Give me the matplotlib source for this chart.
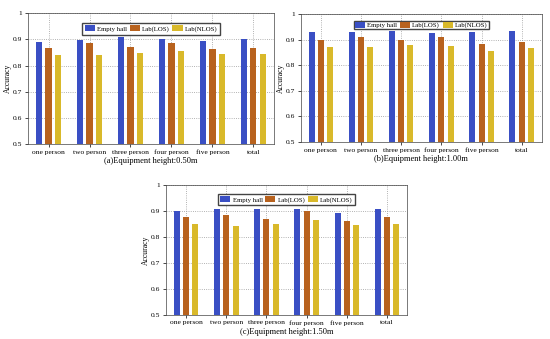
import matplotlib
matplotlib.use('Agg')
import matplotlib.pyplot as plt
import numpy as np

plt.rcParams['font.family'] = ['Liberation Serif', 'DejaVu Serif']
plt.rcParams['font.size'] = 5.5

categories = ['one person', 'two person', 'three person', 'four person', 'five person', 'total']
series_names = ['Empty hall', 'Lab(LOS)', 'Lab(NLOS)']

# (a) equipment height 0.50m
empty_a = [0.890, 0.899, 0.908, 0.900, 0.892, 0.901]
los_a = [0.869, 0.885, 0.871, 0.887, 0.862, 0.869]
nlos_a = [0.840, 0.842, 0.847, 0.855, 0.843, 0.846]

# (b) equipment height 1.00m
empty_b = [0.930, 0.929, 0.934, 0.926, 0.930, 0.932]
los_b = [0.900, 0.908, 0.899, 0.908, 0.881, 0.890]
nlos_b = [0.870, 0.871, 0.877, 0.875, 0.856, 0.866]

# (c) equipment height 1.50m
empty_c = [0.900, 0.909, 0.909, 0.909, 0.894, 0.909]
los_c = [0.879, 0.886, 0.871, 0.899, 0.862, 0.879]
nlos_c = [0.851, 0.842, 0.851, 0.866, 0.846, 0.851]

titles = ['(a)Equipment height:0.50m', '(b)Equipment height:1.00m', '(c)Equipment height:1.50m']
colors = ['#3a4fc4', '#b8621e', '#d9b92a']


def draw_panel(ax, values, title, leg_top, leg_pad):
    x = np.arange(1, len(categories) + 1)
    offsets = [-0.23, 0.0, 0.23]
    for vals, off, col, name in zip(values, offsets, colors, series_names):
        ax.bar(x + off, vals, width=0.15, color=col, label=name, zorder=3)
    ax.set_xlim(0.5, 6.5)
    ax.set_ylim(0.5, 1.0)
    ax.set_xticks(x)
    ax.set_xticklabels(categories)
    ax.set_yticks([0.5, 0.6, 0.7, 0.8, 0.9, 1.0])
    ax.set_yticklabels(['0.5', '0.6', '0.7', '0.8', '0.9', '1'])
    ax.tick_params(length=2, width=0.5, pad=2, labelsize=5.4)
    ax.grid(True, linestyle=':', color='#999999', linewidth=0.6, zorder=0)
    ax.set_ylabel('Accuracy', labelpad=1, fontsize=5.5)
    ax.set_xlabel(title, labelpad=1, fontsize=6)
    for s in ax.spines.values():
        s.set_linewidth(0.5)
        s.set_color('#444444')
    ax.legend(loc='upper center', ncol=3, fontsize=4.9, frameon=True, fancybox=False,
              edgecolor='#444444', handlelength=1.5, handleheight=1.0,
              columnspacing=0.4, handletextpad=0.3, borderpad=leg_pad,
              framealpha=1, bbox_to_anchor=(0.5, leg_top))


fig = plt.figure(figsize=(5.5, 3.39), dpi=100)
ax_a = fig.add_axes([0.051, 0.575, 0.447, 0.386])
ax_b = fig.add_axes([0.547, 0.581, 0.438, 0.378])
ax_c = fig.add_axes([0.302, 0.071, 0.438, 0.383])

draw_panel(ax_a, [empty_a, los_a, nlos_a], titles[0], 0.955, 0.4)
draw_panel(ax_b, [empty_b, los_b, nlos_b], titles[1], 0.975, 0.15)
draw_panel(ax_c, [empty_c, los_c, nlos_c], titles[2], 0.955, 0.3)

fig.savefig('out.png', dpi=100)
